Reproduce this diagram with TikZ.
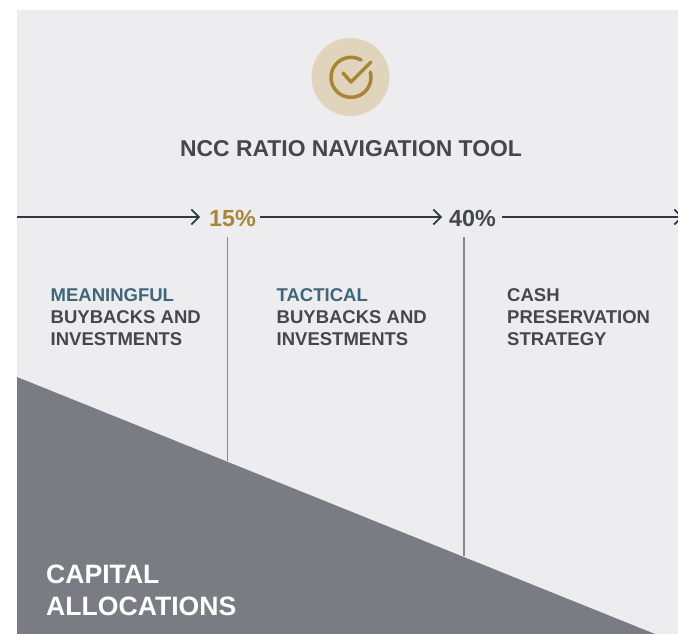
\documentclass[tikz,border=0pt]{standalone}
\usepackage{fontspec}
\setmainfont{Liberation Sans}
\usetikzlibrary{arrows.meta}
\definecolor{panelbg}{HTML}{EDEDF0}
\definecolor{wedge}{HTML}{797C83}
\definecolor{teal}{HTML}{3F6678}
\definecolor{ink}{HTML}{464749}
\definecolor{gold}{HTML}{A98537}
\definecolor{goldlight}{HTML}{E0D5BC}
\definecolor{axis}{HTML}{2F3A42}
\definecolor{divider}{HTML}{85878D}
\tikzset{
  x=1pt,y=-1pt,
  label/.style={inner sep=0pt,anchor=base west,font=\bfseries\fontsize{18.5}{22}\selectfont,text=ink,align=left},
  pct/.style={inner sep=0pt,anchor=base west,font=\bfseries\fontsize{23.3}{26}\selectfont},
  axisline/.style={draw=axis,line width=1.6pt,-{Straight Barb[length=7.5pt,width=15pt,line width=1.7pt]}},
  dividerline/.style={draw=divider,line width=1.1pt},
}
\begin{document}
\begin{tikzpicture}
\useasboundingbox (0,0) rectangle (678,634);
\clip (0,0) rectangle (678,634);
\fill[panelbg] (17,10) rectangle (678,634);
\fill[wedge] (17,377) -- (655,634) -- (17,634) -- cycle;
\node[circle,fill=goldlight,minimum size=78pt,inner sep=0pt] (badge) at (350.5,77) {};
\draw[gold,line width=3.5pt,line cap=round] (361,60) arc[start angle=-60,end angle=-375,radius=20];
\draw[gold,line width=3.5pt,line cap=round,line join=round] (343,73) -- (351,82) -- (371,62);
\node[inner sep=0pt,anchor=base,font=\bfseries\fontsize{22.9}{26}\selectfont,text=ink] (title) at (351,157) {NCC RATIO NAVIGATION TOOL};
\node[pct,text=gold] (p15) at (209,226) {15\%};
\node[pct,text=ink] (p40) at (449,226) {40\%};
\coordinate (axisstart) at (17,217);
\coordinate (axisend) at (683,217);
\draw[axisline] (axisstart) -- (200,217) coordinate (a15);
\draw[axisline] (260,217) coordinate (b15) -- (442,217) coordinate (a40);
\draw[axisline] (502,217) coordinate (b40) -- (axisend);
\coordinate (d1top) at (227.5,237);
\coordinate (d1bot) at (227.5,461);
\coordinate (d2top) at (464,237);
\coordinate (d2bot) at (464,556);
\draw[dividerline] (d1top) -- (d1bot);
\draw[dividerline] (d2top) -- (d2bot);
\node[label] (m) at (50.5,345) {\textcolor{teal}{MEANINGFUL}\\BUYBACKS AND\\INVESTMENTS};
\node[label] (t) at (276.5,345) {\textcolor{teal}{TACTICAL}\\BUYBACKS AND\\INVESTMENTS};
\node[label] (c) at (507,345) {CASH\\PRESERVATION\\STRATEGY};
\node[inner sep=0pt,anchor=base west,align=left,text=white,font=\bfseries\fontsize{26.6}{32}\selectfont] (cap) at (46,615) {CAPITAL\\ALLOCATIONS};
\end{tikzpicture}
\end{document}
